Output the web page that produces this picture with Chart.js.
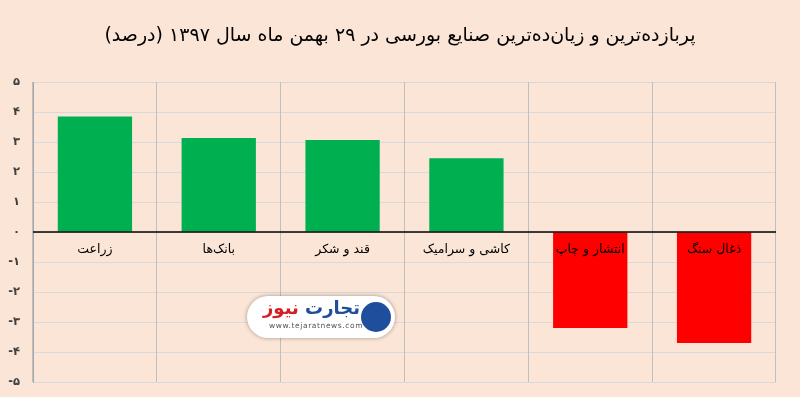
<!DOCTYPE html>
<html><head><meta charset="utf-8">
<script src="https://cdn.jsdelivr.net/npm/chart.js@4"></script>
<style>
html,body{margin:0;padding:0;background:#fbe5d6;}
#wrap{position:relative;width:800px;height:397px;}
#logo{position:absolute;left:247px;top:296px;width:148px;height:42px;background:#fff;border-radius:21px;box-shadow:0 0 4px rgba(0,0,0,0.35);font-family:"DejaVu Sans";}
#logo .t{position:absolute;left:16px;top:1px;font-size:18px;font-weight:bold;direction:rtl;white-space:nowrap;}
#logo .u{position:absolute;left:22px;top:25px;font-size:7.5px;color:#555;letter-spacing:0.6px;}
#logo .c{position:absolute;right:4px;top:6px;width:30px;height:30px;border-radius:50%;background:#1f4e9c;}
</style></head>
<body><div id="wrap"><canvas id="c" width="800" height="397"></canvas>
<div id="logo"><span class="t"><span style="color:#1f4e9c">تجارت</span> <span style="color:#d32027">نیوز</span></span><span class="u">www.tejaratnews.com</span><span class="c"></span></div></div>
<script>
const titleText = "پربازده‌ترین و زیان‌ده‌ترین صنایع بورسی در ۲۹ بهمن ماه سال ۱۳۹۷ (درصد)";
const categories = ["زراعت", "بانک‌ها", "قند و شکر", "کاشی و سرامیک", "انتشار و چاپ", "ذغال سنگ"];
const values = [3.85, 3.13, 3.07, 2.46, -3.2, -3.7];
const barColors = ["#00b050", "#00b050", "#00b050", "#00b050", "#ff0000", "#ff0000"];
const yTickValues = [-5, -4, -3, -2, -1, 0, 1, 2, 3, 4, 5];
const yTickLabels = ["-۵", "-۴", "-۳", "-۲", "-۱", "۰", "۱", "۲", "۳", "۴", "۵"];

const titlePlugin = {
  id: 'rtlTitle',
  afterDraw(chart) {
    const ctx = chart.ctx;
    ctx.save();
    ctx.direction = 'rtl';
    ctx.font = '19px "DejaVu Sans"';
    ctx.fillStyle = '#000';
    ctx.textAlign = 'center';
    ctx.textBaseline = 'middle';
    ctx.fillText(titleText, 400, 36);
    ctx.restore();
  }
};

const zeroLabelsPlugin = {
  id: 'zeroLabels',
  afterDatasetsDraw(chart) {
    const ctx = chart.ctx, xs = chart.scales.x, ys = chart.scales.y;
    const y0 = ys.getPixelForValue(0);
    ctx.save();
    ctx.strokeStyle = '#000';
    ctx.lineWidth = 1.5;
    ctx.beginPath();
    ctx.moveTo(chart.chartArea.left, y0);
    ctx.lineTo(chart.chartArea.right, y0);
    ctx.stroke();
    ctx.direction = 'rtl';
    ctx.font = '12.5px "DejaVu Sans"';
    ctx.fillStyle = '#000';
    ctx.textAlign = 'center';
    ctx.textBaseline = 'middle';
    chart.data.labels.forEach((lab, i) => {
      ctx.fillText(lab, xs.getPixelForValue(i), y0 + 18);
    });
    ctx.restore();
  }
};

new Chart(document.getElementById('c'), {
  type: 'bar',
  data: {
    labels: categories,
    datasets: [{ data: values, backgroundColor: barColors, barPercentage: 0.6, categoryPercentage: 1.0 }]
  },
  options: {
    responsive: false,
    animation: false,
    layout: { padding: { top: 82, right: 24, bottom: 15, left: 0 } },
    plugins: { legend: { display: false }, tooltip: { enabled: false }, title: { display: false } },
    scales: {
      y: {
        min: -5, max: 5,
        afterFit(s) { s.width = 33; s.paddingTop = 0; s.paddingBottom = 0; },
        afterBuildTicks(s) { s.ticks = yTickValues.map(v => ({ value: v })); },
        ticks: {
          padding: 13,
          color: '#404040',
          font: { family: '"DejaVu Sans"', size: 11.5, weight: 'bold' },
          callback(v) { const i = yTickValues.indexOf(v); return i >= 0 ? yTickLabels[i] : ''; }
        },
        grid: { color: '#d9d9d9', drawTicks: false, lineWidth: 1 },
        border: { color: '#a6a6a6' }
      },
      x: {
        position: { y: 0 },
        offset: true,
        afterFit(s) { s.height = 0; },
        grid: { color: '#bfbfbf', drawTicks: false, offset: true },
        ticks: { display: false },
        border: { display: false }
      }
    }
  },
  plugins: [titlePlugin, zeroLabelsPlugin]
});
</script></body></html>
